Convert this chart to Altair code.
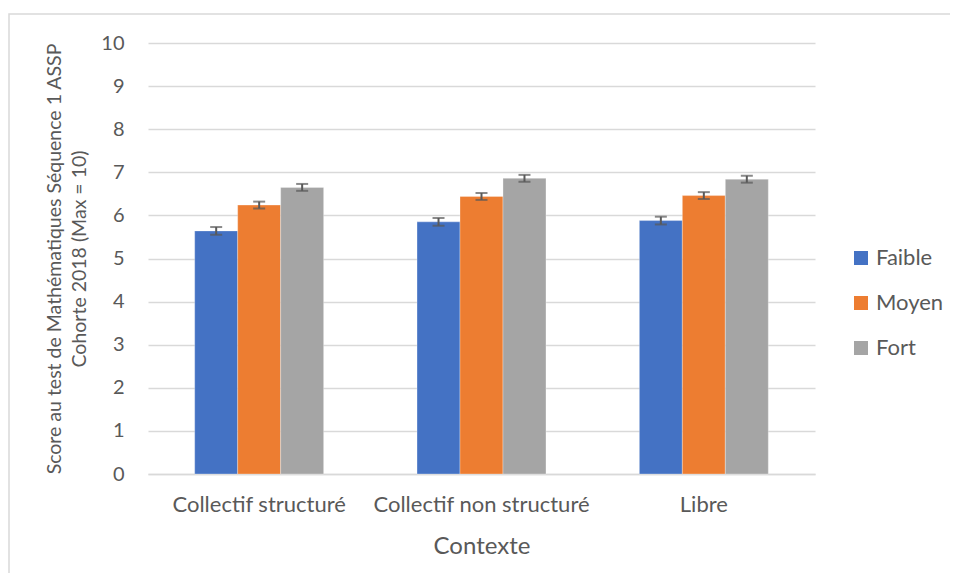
import altair as alt
import pandas as pd

contextes = ["Collectif structuré", "Collectif non structuré", "Libre"]
niveaux = ["Faible", "Moyen", "Fort"]
couleurs = ["#4472c4", "#ed7d31", "#a5a5a5"]

score_faible = [5.64, 5.85, 5.88]
score_moyen = [6.24, 6.44, 6.46]
score_fort = [6.65, 6.86, 6.84]

erreur_faible = [0.09, 0.09, 0.09]
erreur_moyen = [0.08, 0.08, 0.08]
erreur_fort = [0.08, 0.08, 0.08]

rows = []
for niveau, scores, errs in zip(niveaux,
                                [score_faible, score_moyen, score_fort],
                                [erreur_faible, erreur_moyen, erreur_fort]):
    for c, s, e in zip(contextes, scores, errs):
        rows.append({"Contexte": c, "Niveau": niveau, "Score": s,
                     "lo": s - e, "hi": s + e})
df = pd.DataFrame(rows)

FONT = "Lato"
TXT = "#595959"

x_enc = alt.X("Contexte:N", sort=contextes,
              scale=alt.Scale(paddingInner=0.42, paddingOuter=0.21),
              axis=alt.Axis(title="Contexte", labelAngle=0, labelFontSize=22,
                            labelLimit=0,
                            titleFontSize=24, labelPadding=20, titlePadding=19,
                            domainColor="#d9d9d9", domainWidth=1.5, ticks=False,
                            titleFontWeight="normal", labelFont=FONT,
                            titleFont=FONT, labelColor=TXT, titleColor=TXT))
off_enc = alt.XOffset("Niveau:N", sort=niveaux, scale=alt.Scale(paddingInner=0))
y_scale = alt.Scale(domain=[0, 10], nice=False)

bars = alt.Chart(df).mark_bar(stroke="white", strokeWidth=0.5, strokeOpacity=0.6).encode(
    x=x_enc,
    xOffset=off_enc,
    y=alt.Y("Score:Q", scale=y_scale,
            axis=alt.Axis(title=["Score au test de Mathématiques Séquence 1 ASSP",
                                 "Cohorte 2018 (Max = 10)"],
                          values=list(range(0, 11)), labelFontSize=20,
                          titleFontSize=19.5, titleLineHeight=25,
                          labelPadding=24, titlePadding=11, domain=False,
                          ticks=False, gridColor="#d9d9d9", gridWidth=1.3,
                          titleFontWeight="normal", labelFont=FONT,
                          titleFont=FONT, labelColor=TXT, titleColor=TXT)),
    color=alt.Color("Niveau:N", sort=niveaux,
                    scale=alt.Scale(domain=niveaux, range=couleurs),
                    legend=alt.Legend(title=None, orient="none", legendX=702,
                                      legendY=204, symbolType="square",
                                      symbolSize=196, symbolStrokeWidth=0,
                                      labelFontSize=22, labelColor=TXT,
                                      rowPadding=23, labelOffset=4,
                                      labelFont=FONT)),
)

stems = alt.Chart(df).mark_rule(color="#595959", strokeWidth=2).encode(
    x=alt.X("Contexte:N", sort=contextes),
    xOffset=off_enc,
    y=alt.Y("lo:Q", scale=y_scale),
    y2="hi:Q",
)

caps_lo = alt.Chart(df).mark_tick(color="#595959", thickness=2, size=12).encode(
    x=alt.X("Contexte:N", sort=contextes),
    xOffset=off_enc,
    y=alt.Y("lo:Q", scale=y_scale),
)
caps_hi = alt.Chart(df).mark_tick(color="#595959", thickness=2, size=12).encode(
    x=alt.X("Contexte:N", sort=contextes),
    xOffset=off_enc,
    y=alt.Y("hi:Q", scale=y_scale),
)

frame = alt.Chart(pd.DataFrame({"a": [0]})).mark_rect(
    fill=None, stroke="#d9d9d9", strokeWidth=1.5
).encode(
    x=alt.value(-139), x2=alt.value(900),
    y=alt.value(-29), y2=alt.value(700),
)

chart = alt.layer(frame, bars, stems, caps_lo, caps_hi).properties(
    width=667, height=431,
    background="white",
    autosize=alt.AutoSizeParams(type="none"),
    padding={"left": 140, "top": 35, "right": 135, "bottom": 99},
).configure_view(stroke=None)

chart.save("out.html", embed_options={"renderer": "svg", "actions": False})
